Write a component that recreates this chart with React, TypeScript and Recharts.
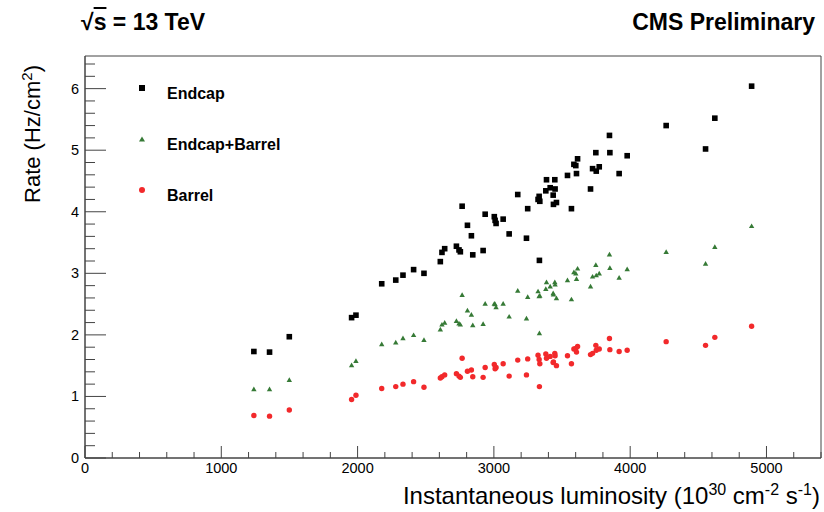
import { ScatterChart, Scatter, XAxis, YAxis, ReferenceArea, Legend } from 'recharts';

// instantaneous luminosity (10^30 cm^-2 s^-1), one entry per measurement
const lumi = [
  1239, 1354, 1499, 1956, 1988, 2177, 2280, 2333, 2411, 2487,
  2607, 2619, 2639, 2725, 2744, 2754, 2767, 2806, 2835, 2845,
  2921, 2936, 3003, 3009, 3016, 3068, 3112, 3175, 3239, 3248,
  3324, 3332, 3337, 3334, 3381, 3386, 3413, 3435, 3437, 3447,
  3449, 3459, 3540, 3569, 3587, 3601, 3606, 3614, 3709, 3724,
  3748, 3751, 3773, 3848, 3851, 3919, 3978, 4264, 4553, 4621, 4891,
];

// rates (Hz/cm2)
const endcap = [
  1.73, 1.72, 1.97, 2.28, 2.32, 2.83, 2.89, 2.97, 3.06, 3.0,
  3.19, 3.34, 3.4, 3.44, 3.38, 3.35, 4.09, 3.78, 3.61, 3.3,
  3.37, 3.96, 3.92, 3.86, 3.81, 3.88, 3.64, 4.28, 3.57, 4.05,
  4.2, 4.25, 4.17, 3.21, 4.34, 4.52, 4.39, 4.27, 4.12, 4.52,
  4.37, 4.15, 4.59, 4.05, 4.77, 4.75, 4.62, 4.86, 4.37, 4.7,
  4.96, 4.66, 4.73, 5.24, 4.96, 4.62, 4.91, 5.4, 5.02, 5.52, 6.04,
];
const endcapBarrel = [
  1.12, 1.12, 1.27, 1.51, 1.58, 1.85, 1.88, 1.95, 2.0, 1.92,
  2.09, 2.17, 2.2, 2.23, 2.19, 2.17, 2.65, 2.4, 2.33, 2.16,
  2.18, 2.51, 2.51, 2.5, 2.45, 2.51, 2.3, 2.72, 2.27, 2.62,
  2.71, 2.63, 2.64, 2.03, 2.75, 2.86, 2.79, 2.68, 2.66, 2.86,
  2.82, 2.6, 2.89, 2.58, 3.02, 3.0, 2.91, 3.08, 2.79, 2.95,
  3.14, 2.97, 3.0, 3.31, 3.09, 2.93, 3.07, 3.35, 3.16, 3.43, 3.77,
];
const barrel = [
  0.69, 0.68, 0.78, 0.95, 1.02, 1.13, 1.16, 1.2, 1.24, 1.15,
  1.3, 1.32, 1.35, 1.37, 1.33, 1.31, 1.62, 1.41, 1.43, 1.32,
  1.31, 1.47, 1.52, 1.45, 1.47, 1.53, 1.33, 1.59, 1.35, 1.61,
  1.67, 1.6, 1.53, 1.16, 1.69, 1.62, 1.65, 1.55, 1.56, 1.7,
  1.66, 1.5, 1.66, 1.53, 1.77, 1.78, 1.72, 1.81, 1.68, 1.7,
  1.83, 1.75, 1.77, 1.94, 1.76, 1.73, 1.75, 1.89, 1.83, 1.96, 2.14,
];

const xTicks = [
  0, 200, 400, 600, 800, 1000, 1200, 1400, 1600, 1800, 2000, 2200, 2400, 2600,
  2800, 3000, 3200, 3400, 3600, 3800, 4000, 4200, 4400, 4600, 4800, 5000, 5200, 5400,
];
const xLabels = [0, 1000, 2000, 3000, 4000, 5000];
const yTicks = [
  0, 0.2, 0.4, 0.6, 0.8, 1, 1.2, 1.4, 1.6, 1.8, 2, 2.2, 2.4, 2.6, 2.8, 3, 3.2,
  3.4, 3.6, 3.8, 4, 4.2, 4.4, 4.6, 4.8, 5, 5.2, 5.4, 5.6, 5.8, 6, 6.2, 6.4,
];
const yLabels = [0, 1, 2, 3, 4, 5, 6];

const X_MAX = 5400;
const Y_MAX = 6.53;

const BLACK = '#000000';
const GREEN = '#367a36';
const RED = '#f2292b';
const FONT = '"Liberation Sans", Arial, Helvetica, sans-serif';

const toRows = (vals: number[]) => lumi.map((x, i) => ({ x, y: vals[i] }));

const Square = (p: any) => <rect x={p.cx - 2.8} y={p.cy - 2.8} width={5.6} height={5.6} fill={BLACK} />;
const Triangle = (p: any) => (
  <polygon points={`${p.cx - 2.7},${p.cy + 2.2} ${p.cx + 2.7},${p.cy + 2.2} ${p.cx},${p.cy - 2.5}`} fill={GREEN} />
);
const Dot = (p: any) => <circle cx={p.cx} cy={p.cy} r={2.7} fill={RED} />;

const XTick = (props: any) => {
  const { x, y, payload } = props;
  const major = xLabels.includes(payload.value);
  return (
    <g>
      <line x1={x} y1={y} x2={x} y2={y - (major ? 12 : 6)} stroke="#444" />
      {major && (
        <text x={x} y={y + 15} textAnchor="middle" fontFamily={FONT} fontSize={14.5} fill="#000">
          {payload.value}
        </text>
      )}
    </g>
  );
};

const YTick = (props: any) => {
  const { x, y, payload } = props;
  const major = yLabels.includes(payload.value);
  return (
    <g>
      <line x1={x} y1={y} x2={x + (major ? 21 : 10)} y2={y} stroke="#444" />
      {major && (
        <text x={x - 6} y={y + 5} textAnchor="end" fontFamily={FONT} fontSize={14.5} fill="#000">
          {payload.value}
        </text>
      )}
    </g>
  );
};

const legendItems = [
  { name: 'Endcap', marker: <rect x={3} y={3} width={6} height={6} fill={BLACK} /> },
  { name: 'Endcap+Barrel', marker: <polygon points="3,8.4 9,8.4 6,3.4" fill={GREEN} /> },
  { name: 'Barrel', marker: <circle cx={6} cy={6} r={3} fill={RED} /> },
];

const renderLegend = () => (
  <div style={{ position: 'relative', width: 200, height: 130 }}>
    {legendItems.map((item, i) => (
      <div key={item.name} style={{ position: 'absolute', left: 0, top: i * 51, width: 200, height: 24 }}>
        <svg width={12} height={12} style={{ position: 'absolute', left: 0, top: 0 }}>
          {item.marker}
        </svg>
        <span
          style={{
            position: 'absolute',
            left: 31,
            top: 4,
            fontFamily: FONT,
            fontWeight: 'bold',
            fontSize: 16,
            lineHeight: '16px',
            color: '#000',
            whiteSpace: 'nowrap',
          }}
        >
          {item.name}
        </span>
      </div>
    ))}
  </div>
);

export default function App() {
  return (
    <div style={{ position: 'absolute', left: 0, top: 0, width: 824, height: 512, background: '#fff', fontFamily: FONT }}>
      <ScatterChart width={824} height={512} margin={{ top: 56, right: 3, bottom: 0, left: 0 }}>
        <XAxis
          type="number"
          dataKey="x"
          domain={[0, X_MAX]}
          ticks={xTicks}
          interval={0}
          tickSize={0}
          tickMargin={0}
          tickLine={false}
          tick={<XTick />}
          height={54}
          axisLine={{ stroke: '#444' }}
          allowDataOverflow
        />
        <YAxis
          type="number"
          dataKey="y"
          domain={[0, Y_MAX]}
          ticks={yTicks}
          interval={0}
          tickSize={0}
          tickMargin={0}
          tickLine={false}
          tick={<YTick />}
          width={85}
          axisLine={{ stroke: '#444' }}
          allowDataOverflow
        />
        <ReferenceArea x1={0} x2={X_MAX} y1={0} y2={Y_MAX} fill="none" stroke="#444" strokeWidth={1} />
        <Legend
          layout="vertical"
          align="center"
          verticalAlign="middle"
          content={renderLegend}
          wrapperStyle={{ position: 'absolute', left: 136, top: 82, width: 200, height: 130 }}
        />
        <Scatter name="Endcap" data={toRows(endcap)} shape={<Square />} isAnimationActive={false} />
        <Scatter name="Endcap+Barrel" data={toRows(endcapBarrel)} shape={<Triangle />} isAnimationActive={false} />
        <Scatter name="Barrel" data={toRows(barrel)} shape={<Dot />} isAnimationActive={false} />
      </ScatterChart>

      <div style={{ position: 'absolute', left: 81, top: 10, fontSize: 23, fontWeight: 'bold', lineHeight: '24px', whiteSpace: 'nowrap' }}>
        √<span style={{ textDecoration: 'overline' }}>s</span> = 13 TeV
      </div>
      <div style={{ position: 'absolute', right: 9, top: 10, fontSize: 23, fontWeight: 'bold', lineHeight: '24px', whiteSpace: 'nowrap' }}>
        CMS Preliminary
      </div>
      <div
        style={{
          position: 'absolute',
          left: 30,
          top: 134,
          transform: 'translate(-50%, -50%) rotate(-90deg)',
          fontSize: 22,
          lineHeight: '24px',
          whiteSpace: 'nowrap',
        }}
      >
        Rate (Hz/cm<sup style={{ fontSize: 15 }}>2</sup>)
      </div>
      <div style={{ position: 'absolute', right: 4, top: 477, fontSize: 24, lineHeight: '26px', whiteSpace: 'nowrap' }}>
        Instantaneous luminosity (10<sup style={{ fontSize: 16 }}>30</sup> cm<sup style={{ fontSize: 16 }}>-2</sup> s<sup style={{ fontSize: 16 }}>-1</sup>)
      </div>
    </div>
  );
}
